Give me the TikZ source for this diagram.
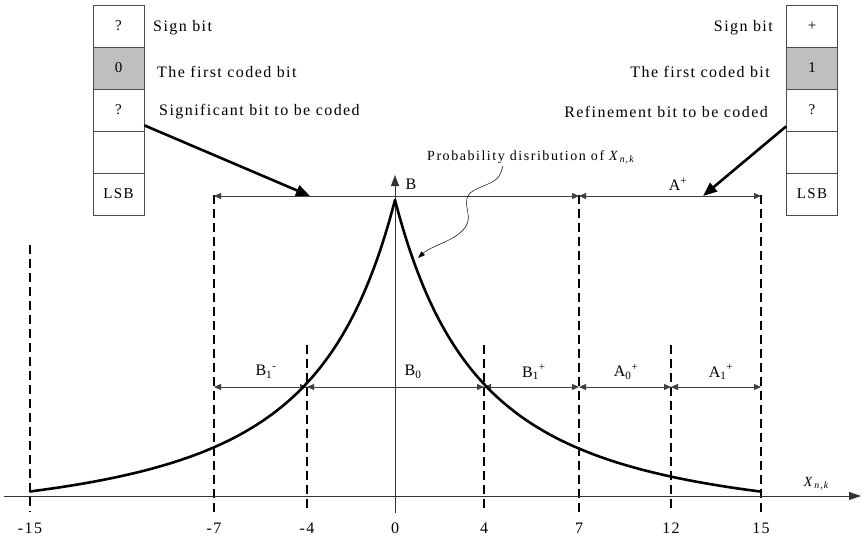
\documentclass[tikz,border=0pt]{standalone}
\usepackage{fontspec}
\setmainfont{Liberation Serif}[LetterSpace=9]
\newfontfamily\smallspaced{Liberation Serif}[LetterSpace=11]
\usetikzlibrary{arrows.meta}
\begin{document}
\begin{tikzpicture}[x=1pt,y=-1pt,
  dimline/.style={draw=black!75, line width=0.9pt, {Triangle[length=7pt,width=6pt]}-{Triangle[length=7pt,width=6pt]}},
  dashv/.style={line width=2.2pt, dash pattern=on 9pt off 5pt},
  bitcell/.style={draw=black!70, line width=0.7pt, minimum width=51pt, minimum height=42pt, inner sep=0pt, font=\fontsize{15}{17}\selectfont},
  lbl/.style={font=\fontsize{16}{18}\selectfont, inner sep=0pt},
  smalllbl/.style={font=\smallspaced\fontsize{14}{15}\selectfont, inner sep=0pt},
  thickarrow/.style={line width=2.6pt, -{Triangle[length=14pt,width=11pt]}},
  curve/.style={line width=2.6pt, line join=round, line cap=round},
  axisline/.style={draw=black!80, line width=0.9pt, -{Triangle[length=12pt,width=8pt]}}
]
\useasboundingbox (0,0) rectangle (866,540);

% ---- bit columns ----
\node[bitcell] (c1L) at (118.5,26) {?};
\node[bitcell, fill=black!25] (c2L) at (118.5,68) {0};
\node[bitcell] (c3L) at (118.5,110) {?};
\node[bitcell] (c4L) at (118.5,152) {};
\node[bitcell] (c5L) at (118.5,194) {LSB};

\node[bitcell] (c1R) at (812,26) {+};
\node[bitcell, fill=black!25] (c2R) at (812,68) {1};
\node[bitcell] (c3R) at (812,110) {?};
\node[bitcell] (c4R) at (812,152) {};
\node[bitcell] (c5R) at (812,194) {LSB};

\node[lbl, anchor=west] (s1L) at (153,28) {Sign bit};
\node[lbl, anchor=west] (s2L) at (157,72) {The first coded bit};
\node[lbl, anchor=west] (s3L) at (159,112) {Significant bit to be coded};
\node[lbl, anchor=east] (s1R) at (773,28) {Sign bit};
\node[lbl, anchor=east] (s2R) at (770,72) {The first coded bit};
\node[lbl, anchor=east] (s3R) at (768,112) {Refinement bit to be coded};

% ---- coordinates ----
\coordinate (tipL) at (310,196);
\coordinate (tipR) at (703,196);
\foreach \n/\x in {m15/30, m7/214, m4/307, z/395, p4/484, p7/579, p12/671, p15/761} {
  \coordinate (top\n) at (\x,196);
  \coordinate (mid\n) at (\x,387);
  \coordinate (bot\n) at (\x,512);
}
\coordinate (dtm15) at (30,245);
\coordinate (dtm7) at (214,195);
\coordinate (dtp7) at (579,195);
\coordinate (dtp15) at (761,195);
\coordinate (dtm4) at (307,345);
\coordinate (dtp4) at (484,345);
\coordinate (dtp12) at (671,345);

% ---- dashed verticals ----
\foreach \n in {m15,m7,m4,p4,p7,p12,p15} {
  \draw[dashv] (dt\n) -- (bot\n);
}

% ---- axes ----
\coordinate (axL) at (4,496);
\coordinate (axR) at (861,496);
\coordinate (vB) at (395,513);
\coordinate (vT) at (395,175);
\draw[axisline] (axL) -- (axR);
\draw[axisline, -{Triangle[length=11pt,width=8pt]}] (vB) -- (vT);

% ---- dimension lines ----
\draw[dimline] (topm7) -- (topp7);
\draw[dimline] (topp7) -- (topp15);
\draw[dimline] (midm7) -- (midm4);
\draw[dimline] (midm4) -- (midp4);
\draw[dimline] (midp4) -- (midp7);
\draw[dimline] (midp7) -- (midp12);
\draw[dimline] (midp12) -- (midp15);

\node[lbl] (lB) at (411,184) {B};
\node[lbl] (lAp) at (678,184) {A\textsuperscript{+}};
\node[lbl] (lB1m) at (266,372) {B\textsubscript{1}\textsuperscript{-}};
\node[lbl] (lB0) at (413,372) {B\textsubscript{0}};
\node[lbl] (lB1p) at (534,372) {B\textsubscript{1}\textsuperscript{+}};
\node[lbl] (lA0p) at (626,372) {A\textsubscript{0}\textsuperscript{+}};
\node[lbl] (lA1p) at (721,372) {A\textsubscript{1}\textsuperscript{+}};

% ---- distribution curve ----
\draw[curve] plot[domain=0:366, samples=140, smooth] ({395+\x}, {496-(329*pow(1+\x/150,-1.76)-33)});
\draw[curve] plot[domain=0:365, samples=140, smooth] ({395-\x}, {496-(329*pow(1+\x/150,-1.76)-33)});

% ---- thick arrows ----
\draw[thickarrow] ([yshift=6pt]c3L.south east) -- (tipL);
\draw[thickarrow] ([yshift=5pt]c3R.south west) -- (tipR);

% ---- probability label ----
\node[smalllbl, anchor=west] (plabel) at (427,157) {Probability disribution of \textit{X}\textsubscript{\textit{n,k}}};
\coordinate (pstart) at (503,166);
\coordinate (pend) at (418,258);
\draw[line width=0.5pt, -{Triangle[length=7pt,width=5pt]}] (pstart) -- (501,172) .. controls (498,186) and (470,186) .. (467,198) .. controls (465,210) and (471,214) .. (467,224) .. controls (460,240) and (432,245) .. (pend);

% ---- tick labels ----
\foreach \n/\x/\t in {m15/30/-15, m7/214/-7, m4/307/-4, z/395/0, p4/484/4, p7/579/7, p12/671/12, p15/761/15} {
  \node[lbl] (tl\n) at (\x,528) {\t};
}
\node[smalllbl] (xlab) at (817,484) {\textit{X}\textsubscript{\textit{n,k}}};
\end{tikzpicture}
\end{document}
